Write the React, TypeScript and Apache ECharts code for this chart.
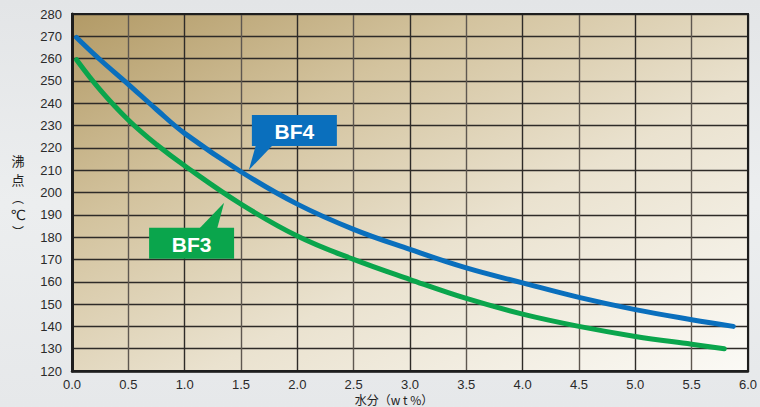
import React, { useEffect, useRef } from "react";
import * as echarts from "echarts";

const xTicks = ["0.0", "0.5", "1.0", "1.5", "2.0", "2.5", "3.0", "3.5", "4.0", "4.5", "5.0", "5.5", "6.0"];
const yTicks = [120, 130, 140, 150, 160, 170, 180, 190, 200, 210, 220, 230, 240, 250, 260, 270, 280];

const bf4X = [0.04, 0.25, 0.5, 0.75, 1.0, 1.5, 2.0, 2.5, 3.0, 3.5, 4.0, 4.5, 5.0, 5.5, 5.87];
const bf4Y = [269.5, 259.5, 248.5, 237.2, 226.5, 209.3, 194.8, 183.5, 174.5, 166.2, 159.5, 153.0, 147.5, 143.0, 140.0];

const bf3X = [0.04, 0.25, 0.5, 0.75, 1.0, 1.5, 2.0, 2.5, 3.0, 3.5, 4.0, 4.5, 5.0, 5.5, 5.79];
const bf3Y = [259.5, 246.0, 232.5, 221.5, 212.0, 194.8, 180.5, 170.0, 161.0, 152.5, 145.5, 140.0, 135.5, 132.0, 130.0];

const labelNames = ["BF4", "BF3"];
const labelTipX = [1.57, 1.35];
const labelTipY = [210.1, 195.4];

const yNameChars = ["沸", "点", "︵", "℃", "︶"];

const BLUE = "#0a6fbd";
const GREEN = "#0aa54c";
const TICK_FONT = "'Liberation Sans', Arial, sans-serif";

export default function App() {
  const ref = useRef<HTMLDivElement>(null);

  useEffect(() => {
    document.body.style.margin = "0";
    const el = ref.current!;
    const chart = echarts.init(el, null, { renderer: "svg" });

    const xMin = 0, xMax = 6, yMin = 120, yMax = 280;

    chart.setOption({
      animation: false,
      backgroundColor: new echarts.graphic.LinearGradient(0, 0, 0, 1, [
        { offset: 0, color: "#e3e5e7" },
        { offset: 0.5, color: "#eceeef" },
        { offset: 1, color: "#e6e8ea" },
      ]),
      grid: {
        left: 72,
        right: 8,
        top: 14,
        bottom: 36,
        show: true,
        borderWidth: 0,
        backgroundColor: new echarts.graphic.LinearGradient(0, 0, 1, 1, [
          { offset: 0, color: "#b29a66" },
          { offset: 0.3, color: "#d3c39e" },
          { offset: 0.6, color: "#eae2cf" },
          { offset: 1, color: "#fbfaf6" },
        ]),
      },
      xAxis: {
        type: "value",
        min: xMin,
        max: xMax,
        interval: 0.5,
        axisLine: { show: true, lineStyle: { color: "#1e1e1e", width: 2.5 } },
        axisTick: { show: false },
        axisLabel: {
          color: "#2a2a2a",
          fontSize: 13,
          fontFamily: TICK_FONT,
          margin: 7,
          formatter: (v: number) => xTicks[Math.round(v / 0.5)] ?? v.toFixed(1),
        },
        splitLine: { show: true, lineStyle: { color: ["#2e2b28", "#5e5750"], width: 1.4 } },
      },
      yAxis: {
        type: "value",
        min: yMin,
        max: yMax,
        interval: 10,
        axisLine: { show: true, lineStyle: { color: "#1e1e1e", width: 3 } },
        axisTick: { show: false },
        axisLabel: {
          color: "#2a2a2a",
          fontSize: 13,
          fontFamily: TICK_FONT,
          margin: 10,
          formatter: (v: number) => String(yTicks[Math.round((v - 120) / 10)] ?? v),
        },
        splitLine: { show: true, lineStyle: { color: "#2e2b28", width: 1.3 } },
      },
      series: [
        {
          name: "BF4",
          type: "line",
          smooth: 0.4,
          showSymbol: false,
          data: bf4X.map((x, i) => [x, bf4Y[i]]),
          lineStyle: { color: BLUE, width: 5, cap: "round" },
          z: 5,
        },
        {
          name: "BF3",
          type: "line",
          smooth: 0.4,
          showSymbol: false,
          data: bf3X.map((x, i) => [x, bf3Y[i]]),
          lineStyle: { color: GREEN, width: 5, cap: "round" },
          z: 5,
        },
      ],
    });

    const frame = (() => {
      const tl = chart.convertToPixel({ gridIndex: 0 }, [xMin, yMax]) as number[];
      const br = chart.convertToPixel({ gridIndex: 0 }, [xMax, yMin]) as number[];
      return { x: tl[0], y: tl[1], w: br[0] - tl[0], h: br[1] - tl[1] };
    })();

    const tip4 = chart.convertToPixel({ gridIndex: 0 }, [labelTipX[0], labelTipY[0]]) as number[];
    const tip3 = chart.convertToPixel({ gridIndex: 0 }, [labelTipX[1], labelTipY[1]]) as number[];

    const makeLabel = (
      tip: number[],
      name: string,
      color: string,
      box: { dx: number; dy: number; w: number; h: number },
      base: [number, number, number, number]
    ) => ({
      type: "group",
      z: 20,
      children: [
        {
          type: "polygon",
          shape: {
            points: [
              [tip[0], tip[1]],
              [tip[0] + base[0], tip[1] + base[1]],
              [tip[0] + base[2], tip[1] + base[3]],
            ],
          },
          style: { fill: color },
        },
        {
          type: "rect",
          shape: { x: tip[0] + box.dx, y: tip[1] + box.dy, width: box.w, height: box.h },
          style: { fill: color },
        },
        {
          type: "text",
          x: tip[0] + box.dx + box.w / 2,
          y: tip[1] + box.dy + box.h / 2 + 1,
          style: {
            text: name,
            fill: "#ffffff",
            font: "bold 21px 'Liberation Sans', Arial, sans-serif",
            align: "center",
            verticalAlign: "middle",
          },
        },
      ],
    });

    const yNameY = [160, 179, 197.5, 214.5, 231.5];
    const yNameFont = [
      "13px 'Noto Sans CJK JP', sans-serif",
      "13px 'Noto Sans CJK JP', sans-serif",
      "12px 'Noto Sans CJK JP', sans-serif",
      "14px 'DejaVu Sans', sans-serif",
      "12px 'Noto Sans CJK JP', sans-serif",
    ];

    chart.setOption({
      graphic: [
        {
          type: "rect",
          z: 10,
          shape: { x: frame.x, y: frame.y, width: frame.w, height: frame.h },
          style: { fill: "none", stroke: "#1e1e1e", lineWidth: 2 },
        },
        makeLabel(tip4, labelNames[0], BLUE, { dx: 3, dy: -55, w: 85, h: 31 }, [7, -25, 24, -25]),
        makeLabel(tip3, labelNames[1], GREEN, { dx: -75, dy: 25, w: 85, h: 31 }, [-25, 26, -7, 26]),
        ...yNameChars.map((c, i) => ({
          type: "text",
          x: 18,
          y: yNameY[i],
          z: 20,
          style: {
            text: c,
            fill: "#222",
            font: yNameFont[i],
            align: "center",
            verticalAlign: "middle",
          },
        })),
        {
          type: "text",
          x: 394,
          y: 399.5,
          z: 20,
          style: {
            text: "水分（w t %）",
            fill: "#222",
            font: "12px 'Noto Sans CJK JP', sans-serif",
            align: "center",
            verticalAlign: "middle",
          },
        },
      ],
    });

    return () => chart.dispose();
  }, []);

  return (
    <div
      ref={ref}
      style={{ position: "fixed", left: 0, top: 0, width: 760, height: 407 }}
    />
  );
}
